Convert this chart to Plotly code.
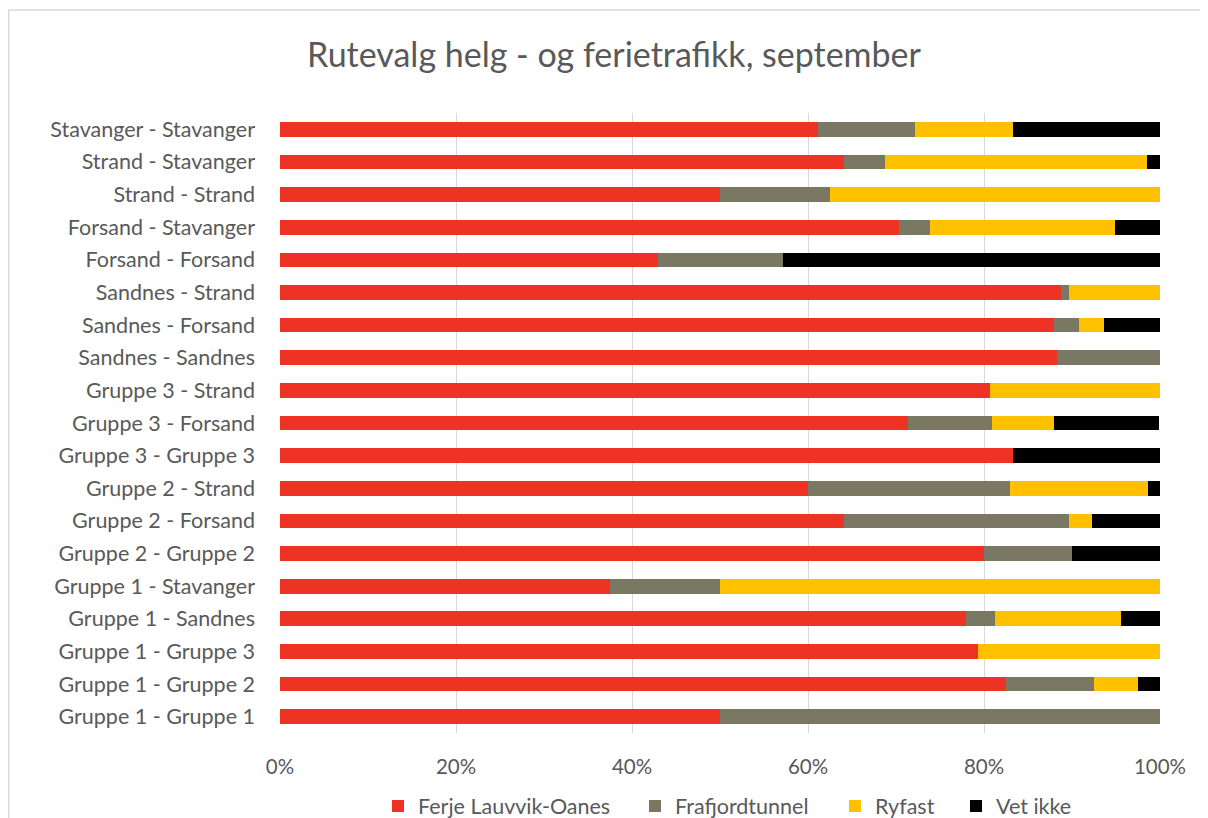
import plotly.graph_objects as go

categories = [
    "Gruppe 1 - Gruppe 1", "Gruppe 1 - Gruppe 2", "Gruppe 1 - Gruppe 3",
    "Gruppe 1 - Sandnes", "Gruppe 1 - Stavanger", "Gruppe 2 - Gruppe 2",
    "Gruppe 2 - Forsand", "Gruppe 2 - Strand", "Gruppe 3 - Gruppe 3",
    "Gruppe 3 - Forsand", "Gruppe 3 - Strand", "Sandnes - Sandnes",
    "Sandnes - Forsand", "Sandnes - Strand", "Forsand - Forsand",
    "Forsand - Stavanger", "Strand - Strand", "Strand - Stavanger",
    "Stavanger - Stavanger",
]

ferje = [50.0, 82.5, 79.3, 78.0, 37.5, 80.0, 64.1, 60.0, 83.3, 71.4, 80.7, 88.3, 88.0, 88.8, 42.9, 70.3, 50.0, 64.1, 61.1]
frafjord = [50.0, 10.0, 0.0, 3.3, 12.5, 10.0, 25.6, 22.9, 0.0, 9.5, 0.0, 11.7, 2.8, 0.9, 14.3, 3.6, 12.5, 4.6, 11.1]
ryfast = [0.0, 5.0, 20.7, 14.3, 50.0, 0.0, 2.6, 15.7, 0.0, 7.1, 19.3, 0.0, 2.8, 10.3, 0.0, 21.0, 37.5, 29.8, 11.1]
vet_ikke = [0.0, 2.5, 0.0, 4.4, 0.0, 10.0, 7.7, 1.4, 16.7, 11.9, 0.0, 0.0, 6.4, 0.0, 42.8, 5.1, 0.0, 1.5, 16.7]

series_names = ["Ferje Lauvvik-Oanes", "Frafjordtunnel", "Ryfast", "Vet ikke"]
series_values = [ferje, frafjord, ryfast, vet_ikke]
series_colors = ["#EE3224", "#7A7862", "#FFC000", "#000000"]
legend_ids = ["legend", "legend2", "legend3", "legend4"]
# page x of legend square centres
legend_centres = [402, 659, 859, 980]

FONT = "Lato"
TXT = "#595959"
OFF = 8  # body margin of the page

W, H = 1200, 810
L, R, T, B = 280 - OFF, 48, 113 - OFF, 85

PW = W - L - R
PH = H - T - B


def pxx(page_x):
    return (page_x - OFF - L) / PW


def pxy(page_y):
    return (H - B - (page_y - OFF)) / PH


fig = go.Figure()
for name, vals, col, lg in zip(series_names, series_values, series_colors, legend_ids):
    fig.add_trace(go.Bar(
        y=categories, x=vals, name=name, orientation="h",
        marker=dict(color=col, line=dict(width=0)),
        legend=lg,
    ))

legend_layout = {}
for lg, c in zip(legend_ids, legend_centres):
    legend_layout[lg] = dict(
        orientation="h", x=pxx(c - 24), xanchor="left",
        y=pxy(806), yanchor="middle",
        font=dict(family=FONT, size=21.5, color=TXT),
        itemwidth=30, bgcolor="rgba(0,0,0,0)",
    )

fig.update_layout(
    width=W, height=H,
    barmode="stack", bargap=0.55,
    plot_bgcolor="white", paper_bgcolor="white",
    margin=dict(l=L, r=R, t=T, b=B, autoexpand=False),
    font=dict(family=FONT, size=21, color=TXT),
    title=dict(
        text="Rutevalg helg - og ferietrafikk, september",
        x=(614 - OFF) / W, xref="container", xanchor="center",
        y=1 - (55 - OFF) / H, yref="container", yanchor="middle",
        font=dict(family=FONT, size=34, color=TXT),
    ),
    xaxis=dict(
        range=[0, 100], dtick=20, ticksuffix="%",
        showgrid=True, gridcolor="#D9D9D9", gridwidth=1,
        zeroline=False, showline=False,
        ticklabelstandoff=19,
        tickfont=dict(family=FONT, size=20.5, color=TXT),
    ),
    yaxis=dict(
        range=[-0.5, 18.5], showgrid=False, zeroline=False, showline=False,
        ticklabelstandoff=24,
        tickfont=dict(family=FONT, size=21.5, color=TXT),
    ),
    showlegend=True,
    shapes=[
        dict(type="line", xref="paper", yref="paper",
             x0=pxx(7.5), x1=pxx(1215),
             y0=pxy(10), y1=pxy(10),
             line=dict(color="#D9D9D9", width=1.5)),
        dict(type="line", xref="paper", yref="paper",
             x0=pxx(8.7), x1=pxx(8.7),
             y0=pxy(10), y1=pxy(830),
             line=dict(color="#D9D9D9", width=1.5)),
    ],
    **legend_layout,
)

fig.write_html("out.html")
